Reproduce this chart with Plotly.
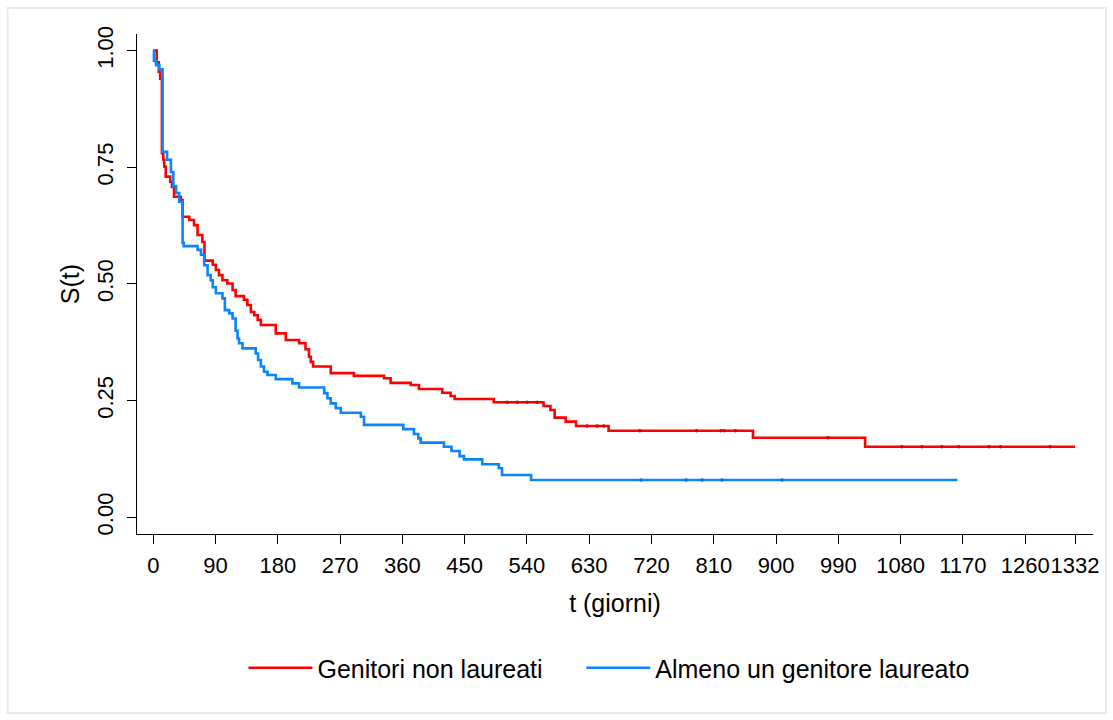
import numpy as np
import plotly.graph_objects as go

# Kaplan-Meier estimates
red_name = "Genitori non laureati"
red_t = [0, 5, 8, 10, 12.5, 14.5, 16, 18, 24.5, 27, 30, 40, 42.4, 52, 59, 64, 71, 74, 86, 90.5,
         95, 100, 107, 114.6, 119, 131, 136, 141, 146, 151, 155.5, 177, 191.5, 210.7, 220, 225,
         227.6, 231, 256.5, 290, 333.5, 343, 372, 384, 417.7, 429.7, 435.5, 492, 564, 574, 580,
         596, 611, 658, 866.6, 1028.7, 1332]
red_s = [1.0, 0.975, 0.955, 0.94, 0.78, 0.766, 0.751, 0.73, 0.719, 0.708, 0.687, 0.68, 0.644, 0.637,
         0.626, 0.605, 0.59, 0.55, 0.541, 0.53, 0.519, 0.508, 0.501, 0.487, 0.474, 0.466, 0.455,
         0.44, 0.433, 0.423, 0.412, 0.394, 0.38, 0.373, 0.36, 0.344, 0.333, 0.323, 0.309, 0.303,
         0.298, 0.288, 0.2835, 0.275, 0.267, 0.26, 0.2535, 0.2464, 0.2385, 0.23, 0.2135, 0.205,
         0.1956, 0.1856, 0.1706, 0.1513, 0.1513]
red_cens = [511.5, 526, 540.4, 554.8, 627, 641.5, 651, 703, 785, 820.5, 825, 841, 975, 1081.7,
            1110.6, 1139.5, 1164, 1207.7, 1224.5, 1296]

blue_name = "Almeno un genitore laureato"
blue_t = [0, 1, 4, 8.7, 13.5, 20, 25.5, 29, 33, 37.5, 42.4, 44, 64, 69, 73.6, 78.5, 83, 86, 90.5,
          100, 103.5, 109.7, 114.6, 119, 121.8, 124, 129, 148, 151.5, 155.5, 160, 165, 177, 201,
          210.7, 247, 251.7, 256.5, 263.7, 271, 300, 304.6, 361.4, 376.7, 383, 386.4, 420, 431,
          442.7, 449, 475.4, 499.4, 504, 546, 1162]
blue_s = [1.0, 0.978, 0.969, 0.96, 0.783, 0.766, 0.74, 0.71, 0.695, 0.676, 0.588, 0.581, 0.573,
          0.5625, 0.54, 0.519, 0.508, 0.493, 0.48, 0.469, 0.444, 0.437, 0.426, 0.40, 0.383, 0.373,
          0.362, 0.351, 0.337, 0.323, 0.312, 0.305, 0.296, 0.287, 0.278, 0.266, 0.255, 0.244,
          0.234, 0.224, 0.2156, 0.198, 0.189, 0.1785, 0.169, 0.16, 0.151, 0.142, 0.131, 0.124,
          0.1136, 0.105, 0.0906, 0.08, 0.08]
blue_cens = [705, 770, 793, 822, 908.5]

x_ticks = [0, 90, 180, 270, 360, 450, 540, 630, 720, 810, 900, 990, 1080, 1170, 1260, 1332]
y_ticks = [0, 0.25, 0.5, 0.75, 1.0]
y_labels = ["0.00", "0.25", "0.50", "0.75", "1.00"]

RED = "#ff0000"
BLUE = "#0a84ff"
FONT = "Liberation Sans, Arial, Helvetica, sans-serif"


def step_at(ts, ss, q):
    idx = np.searchsorted(np.array(ts), np.array(q), side="right") - 1
    return list(np.array(ss)[idx])


fig = go.Figure()
fig.add_trace(go.Scatter(x=red_t, y=red_s, mode="lines", line=dict(color=RED, width=2.6, shape="hv"),
                         name=red_name, legend="legend"))
fig.add_trace(go.Scatter(x=blue_t, y=blue_s, mode="lines", line=dict(color=BLUE, width=2.6, shape="hv"),
                         name=blue_name, legend="legend2"))
fig.add_trace(go.Scatter(x=red_cens, y=step_at(red_t, red_s, red_cens), mode="markers",
                         marker=dict(symbol="circle", size=3.5, color="#d80000", line=dict(width=0)),
                         showlegend=False, hoverinfo="skip"))
fig.add_trace(go.Scatter(x=blue_cens, y=step_at(blue_t, blue_s, blue_cens), mode="markers",
                         marker=dict(symbol="circle", size=3.5, color="#0872dc", line=dict(width=0)),
                         showlegend=False, hoverinfo="skip"))

L, R, T, B = 136.5, 1093, 34, 534
W, H = 1113, 720


def px_to_paper(x, y):
    return (x - L) / (R - L), (B - y) / (B - T)


x0, y0 = px_to_paper(7, 713)
x1, y1 = px_to_paper(1106, 8)
lx, ly = px_to_paper(243, 668)
lx2, _ = px_to_paper(581, 668)

leg_common = dict(orientation="h", xanchor="left", y=ly, yanchor="middle",
                  font=dict(size=25), itemwidth=64, bgcolor="rgba(0,0,0,0)")

fig.update_layout(
    width=W, height=H,
    margin=dict(l=L, r=W - R, t=T, b=H - B, autoexpand=False),
    paper_bgcolor="white", plot_bgcolor="white",
    font=dict(family=FONT, color="black", size=22),
    showlegend=True,
    legend=dict(x=lx, **leg_common),
    legend2=dict(x=lx2, **leg_common),
    shapes=[dict(type="rect", xref="paper", yref="paper", x0=x0, y0=y0, x1=x1, y1=y1,
                 line=dict(color="#e3ecef", width=2), fillcolor="rgba(0,0,0,0)", layer="below")],
)
fig.update_xaxes(range=[-23.5, 1358], tickmode="array", tickvals=x_ticks,
                 ticktext=[str(v) for v in x_ticks], tickangle=0, showgrid=False, zeroline=False,
                 showline=True, linecolor="black", linewidth=1, ticks="outside", ticklen=9,
                 tickcolor="black", tickfont=dict(size=22), ticklabelstandoff=3,
                 title=dict(text="t (giorni)", font=dict(size=25), standoff=17))
fig.update_yaxes(range=[-0.0358, 1.0356], tickmode="array", tickvals=y_ticks, ticktext=y_labels,
                 tickangle=-90, showgrid=False, zeroline=False, showline=True, linecolor="black",
                 linewidth=1, ticks="outside", ticklen=9, tickcolor="black", tickfont=dict(size=22),
                 ticklabelstandoff=5,
                 title=dict(text="S(t)", font=dict(size=25), standoff=6))

fig.write_html("out.html")
